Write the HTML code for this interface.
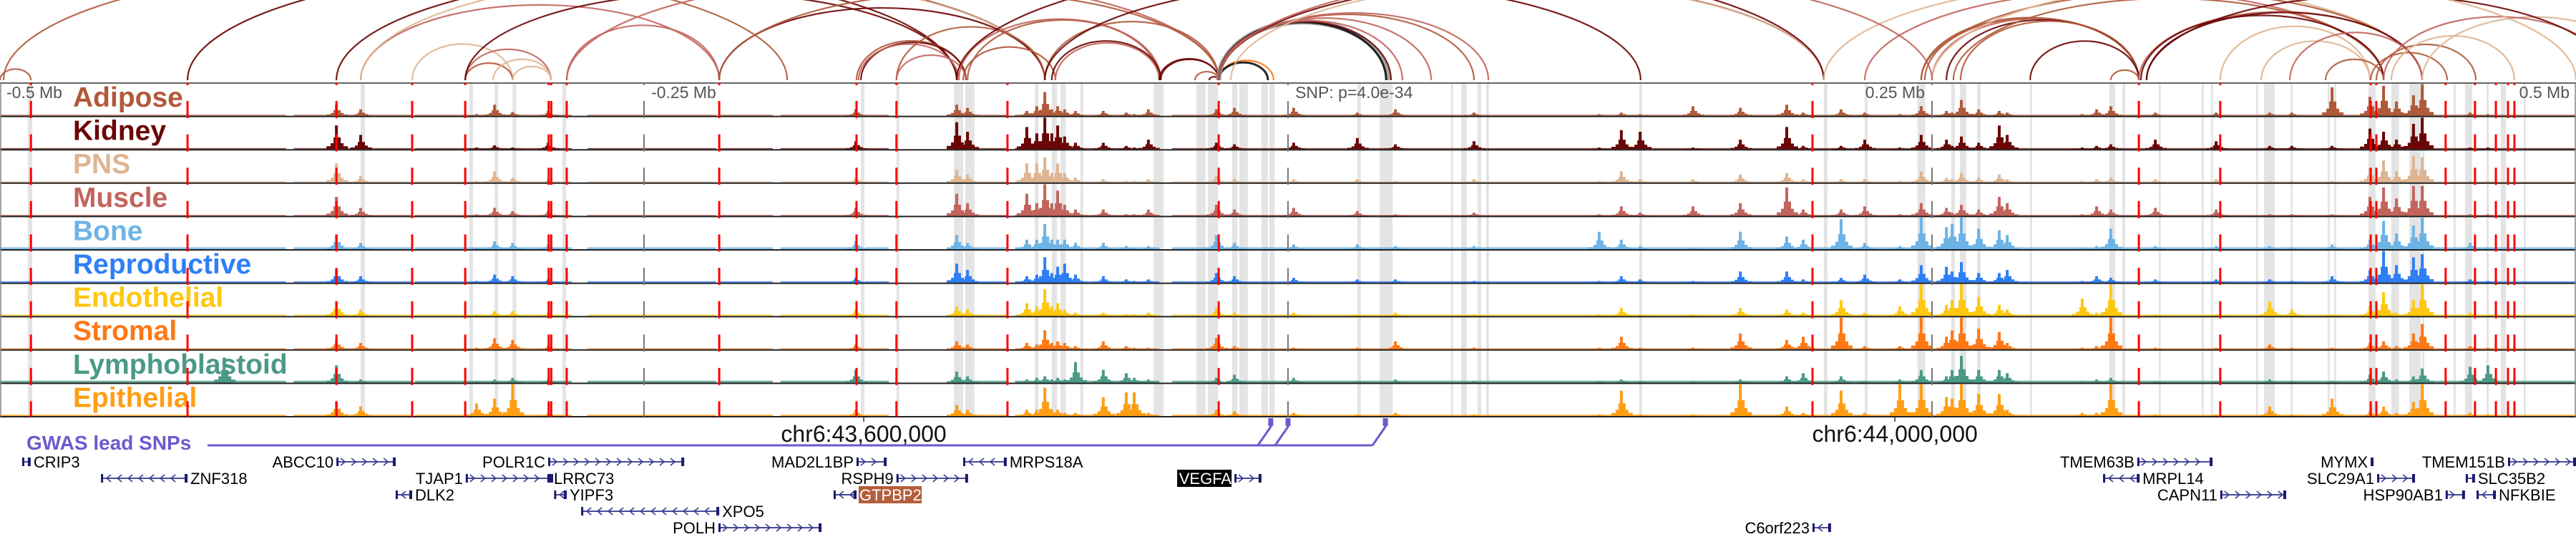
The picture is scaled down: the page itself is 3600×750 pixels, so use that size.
<!DOCTYPE html>
<html><head><meta charset="utf-8"><style>
html,body{margin:0;padding:0;background:#fff;}
svg{display:block;font-family:"Liberation Sans",sans-serif;}
</style></head><body>
<svg id="chart" width="3600" height="750" viewBox="0 0 3600 750" xmlns="http://www.w3.org/2000/svg">
<rect x="0" y="0" width="3600" height="750" fill="#fff"/>
<g id="arcs"></g>
<g id="bands"></g>
<g id="axislabels"></g>
<g id="labels"></g>
<g id="signals"></g>
<g id="borders"></g>
<g id="vlines"></g>
<g id="gwas"></g>
<g id="genes"></g>
</svg>
<script>
// ---- data (kb relative to lead SNP; region -500..500 kb) ----
const trackNames = ["Adipose","Kidney","PNS","Muscle","Bone","Reproductive","Endothelial","Stromal","Lymphoblastoid","Epithelial"];
const trackColors = ["#b05a3a","#6b0606","#deb592","#c2645c","#6db3e6","#2e7ff6","#ffc80f","#ff7814","#4a9a86","#ff9e14"];
const baseLevels = [0.03,0.03,0.03,0.03,0.06,0.04,0.04,0.03,0.06,0.04];
const coverage = [[-500,-389],[-386,-369],[-367,-340],[-339,-278],[-272,-222],[-221,-200],[-197,-167],[-164,-155],[-130,-109],[-106,-50],[-45,-28],[-24,500]];
const peakKb = [-413,-369.4,-360,-315,-308,-301,-287.2,-167.8,-128.6,-124.4,-101.4,-97.5,-94.4,-91.7,-89.4,-86.7,-82.5,-71.7,-62.8,-59.7,-54.2,-27.8,-20.8,2.2,26.9,41.7,72.2,120.8,129.4,136.7,157.2,175.6,193.6,200,214.7,223.9,237.5,245.8,255.6,257.8,261.4,268.1,276.1,279.2,308.3,313.9,319.4,336.7,360.3,381.1,389.7,405.3,420,425.3,430.3,436.9,440.3,458.9,465.8];
const hAdipose = [0,.35,.2,.05,.35,.12,.15,.2,.35,.25,.15,.3,.75,.2,.3,.2,.15,.15,.1,.05,.2,.2,.25,.25,.1,.2,.1,.05,.1,.05,.3,.25,.35,.1,.2,.1,.05,.3,.15,.1,.5,.2,.15,.1,.05,.2,.3,.1,.1,.1,.1,.9,.6,.95,.45,.65,1,.1,.05];
const hKidney = [0,.75,.45,.05,.12,.05,.2,.25,.85,.55,.7,.5,1,.5,.75,.4,.2,.2,.1,.05,.3,.2,.15,.2,.35,.15,.25,.05,.6,.55,.05,.3,.7,.1,.1,.3,.05,.45,.3,.1,.4,.2,.75,.45,.05,.1,.15,.3,.25,.1,.1,.1,.65,.55,.3,.8,1,.05,.05];
const hPNS = [0,.6,.2,.05,.35,.15,.1,.15,.4,.25,.6,.6,.8,.3,.6,.3,.15,.1,.05,.05,.1,.2,.1,.1,.1,.05,.1,.05,.35,.1,.1,.25,.3,.1,.1,.1,.05,.35,.15,.1,.3,.15,.25,.1,.05,.1,.15,.1,.1,.05,.05,.05,.45,.7,.35,.85,.8,.05,.05];
const hMuscle = [0,.6,.25,.05,.25,.15,.15,.25,.7,.4,.7,.4,1,.4,.8,.35,.2,.2,.05,.05,.2,.35,.2,.25,.15,.05,.1,.05,.3,.1,.3,.4,.9,.2,.2,.3,.05,.4,.25,.1,.35,.2,.6,.4,.05,.3,.2,.25,.2,.05,.05,.05,.6,.9,.55,.95,.95,.05,.05];
const hBone = [0,.45,.2,.05,.25,.2,.15,.25,.45,.2,.3,.3,.8,.3,.3,.3,.2,.2,.1,.05,.1,.45,.2,.15,.15,.1,.1,.55,.3,.1,.05,.55,.4,.3,.95,.2,.1,1,.7,.8,1,.65,.6,.45,.05,.1,.65,.1,.1,.1,.05,.15,.3,.9,.5,.75,1,.2,.05];
const hRepro = [0,.4,.2,.05,.25,.2,.1,.15,.6,.4,.2,.25,.8,.3,.5,.6,.25,.2,.1,.05,.1,.3,.2,.15,.1,.1,.05,.05,.2,.1,.05,.35,.35,.1,.15,.25,.1,.55,.5,.35,.65,.3,.3,.4,.05,.2,.15,.1,.1,.1,.05,.2,.4,1,.55,.8,.9,.1,.05];
const hEndo = [0,.45,.2,.05,.15,.15,.1,.2,.3,.2,.4,.3,.85,.3,.4,.2,.1,.1,.05,.05,.1,.25,.1,.1,.05,.1,.05,.05,.25,.05,.05,.25,.2,.1,.5,.1,.3,1,.35,.5,1,.6,.35,.2,.55,.1,1,.05,.05,.45,.2,.05,.3,.75,.1,.5,1,.1,.05];
const hStromal = [0,.3,.2,.05,.35,.3,.1,.15,.25,.15,.2,.15,.6,.2,.25,.2,.1,.25,.1,.05,.05,.35,.1,.05,.05,.25,.05,.05,.4,.05,.05,.5,.3,.4,1,.1,.1,1,.4,.6,1,.65,.55,.2,.05,.1,1,.05,.05,.15,.05,.05,.2,.25,.1,.5,.8,.1,.05];
const hLympho = [.8,.55,.1,.05,.1,.15,.1,.4,.35,.2,.1,.15,.2,.1,.15,.1,.65,.4,.3,.15,.1,.15,.25,.15,.05,.1,.05,.05,.1,.05,.05,.1,.2,.3,.2,.05,.1,.4,.2,.4,.85,.4,.4,.3,.05,.1,.15,.05,.05,.1,.05,.05,.25,.35,.1,.2,.45,.5,.55];
const hEpi = [0,.45,.3,.4,.55,1,.1,.2,.35,.2,.2,.2,.9,.2,.2,.1,.1,.6,.75,.75,.1,.2,.15,.1,.05,.1,.05,.05,.8,.05,.05,1,.3,.1,.8,.1,1,1,.6,.55,1,.7,.7,.2,.1,.1,1,.05,.05,.3,.05,.55,.15,.3,.1,.45,1,.1,.05];
const trackHeights = [hAdipose,hKidney,hPNS,hMuscle,hBone,hRepro,hEndo,hStromal,hLympho,hEpi];
const bandStart = [-489.2,-360,-317.8,-308,-301,-281.7,-165.8,-152,-129.7,-125.3,-98.3,-91.7,-88.3,-80.6,-52.2,-35.6,-31.1,-21.7,-18.9,-10.3,-7.2,26.9,35.6,63.3,67.2,73.6,76.9,136.4,208,223.9,244.4,257.5,260.8,267.5,288,318.9,323.9,338,354.7,358.3,375.8,378.9,389.2,403.6,406.1,419.4,428.3,435.3,440.3,452.5,456.9,465.3,470.8,479.7];
const bandWidth = [1.7,1.7,1.4,1.4,1.4,1.4,1.4,1.1,3.6,3.6,1.4,2,2,1.1,3.9,3.6,3.9,2,3.3,2.5,2,1.4,5,.8,2.2,1.4,1.1,1.1,1.4,1.1,3,1.4,2.5,1.4,.8,2.2,1.1,.8,.8,.8,.8,4.2,.8,.8,.8,2.8,3,4.4,.8,.8,2.8,.8,2,.8];
const redLines = [-488,-427.2,-369.4,-340,-319.4,-287,-286,-280,-220.8,-167.5,-152,-108.9,-26.9,203.6,330.3,361.9,420.3,422.5,449.4,460.8,468.9,473.6,476.1];
const greyLines = [-250,0,250];
const arcStart = [-500,-498.6,-427.2,-369.4,-360,-360,-340,-319.4,-319.4,-308.6,-301,-319.4,-280,-280,-220.8,-220.8,-167.5,-165.8,-166.7,-152,-152,-126.1,-124.4,-127.8,-90.3,-91.7,-94.4,-50,-49.4,-36.1,-30.6,-26.9,-26.9,-26.9,-26.9,-26.9,-26.9,-26.9,-26.9,-26.9,-26.9,-22.2,-94.4,-128.6,208,223.9,245.8,247.2,250,255.6,261.1,288.1,319.4,245.8,258.3,330.3,331.1,333.3,361.9,377.8,388.9,402.8,420.3,422.5,428.3,440.3,425.3,333.3,250,-26.9];
const arcEnd = [-488,-194.4,-128.6,-94.4,-220.8,-94.4,-301,-286.1,-301,-286.1,-286.1,-128.6,-220.8,-26.9,-94.4,-26.9,-125,-125,-127.8,-94.4,-125,-90.3,-50,-49.4,-50,-49.4,-26.9,-26.9,-26.9,-26.9,-26.9,-5.6,-7.8,38.9,38.1,40,44.4,55.6,72.2,77.8,208,208,136.9,208,440.3,425.3,330.3,330.3,330.3,330.3,330.3,330.3,330.3,440.3,425.3,440.3,425.3,440.3,420,420,440.3,425.3,450,461.1,476.1,527.8,513.9,513.9,500,250];
const arcColor = [0,0,1,1,3,2,2,3,0,2,2,1,3,3,1,0,0,1,3,0,3,0,0,3,3,1,0,1,1,0,1,7,10,11,10,1,3,3,0,3,1,2,1,1,2,3,0,0,3,1,0,1,0,0,0,3,1,1,2,2,3,0,0,0,2,2,3,1,2,3];
const geneName = ["CRIP3","ZNF318","ABCC10","DLK2","TJAP1","POLR1C","LRRC73","YIPF3","XPO5","POLH","MAD2L1BP","RSPH9","GTPBP2","MRPS18A","VEGFA","C6orf223","TMEM63B","MRPL14","CAPN11","MYMX","SLC29A1","HSP90AB1","TMEM151B","SLC35B2","NFKBIE"];
const geneStart = [-491.4,-460.8,-369.4,-346.4,-319.2,-287.2,-286.1,-284.9,-274.4,-221.1,-167.5,-152,-176.4,-126.1,-20.8,203.6,329.7,316.4,361.9,420.3,422.8,449.4,473.6,457.2,461.4];
const geneEnd = [-488.1,-427.2,-346.4,-340,-286.4,-234.4,-286.1,-280,-220.8,-181.1,-155.8,-124.2,-167.5,-109.2,-10.3,210.8,358.9,330.6,387.5,421.4,437.5,456.9,500,460.8,468.9];
const geneRow = [0,1,0,2,1,0,1,2,3,4,0,1,2,0,1,4,0,1,2,0,1,2,0,1,2];
const geneStrand = [-1,-1,1,-1,1,1,0,-1,-1,1,1,1,-1,-1,1,-1,1,-1,1,1,1,1,1,-1,-1];
const geneLabelSide = ["R","R","L","R","L","L","R","R","R","L","L","L","R","R","L","L","L","R","L","L","L","L","L","R","R"];
const gwasSnps = [-6.7,0,37.8];
const tickLabels = ["chr6:43,600,000","chr6:44,000,000"];
const tickKb = [-164.7,235.6];
const mbLabels = ["-0.5 Mb","-0.25 Mb","SNP: p=4.0e-34","0.25 Mb","0.5 Mb"];
const mbLabelKb = [-497.5,-247.2,2.8,247.2,497.5];
const mbLabelAnchor = ["start","start","start","end","end"];

// ---- scales / layout ----
const NS="http://www.w3.org/2000/svg";
const X = kb => 1800 + kb*3.6;
const TRACK_TOP=116, TRACK_H=46.6, NT=10, TRACK_BOTTOM=TRACK_TOP+TRACK_H*NT;
const MAXH=44;
const Y = (i,v) => TRACK_TOP+(i+1)*TRACK_H-1 - v*MAXH;
function mk(tag, attrs, parent){const e=document.createElementNS(NS,tag);for(const k in attrs)e.setAttribute(k,attrs[k]);parent.appendChild(e);return e;}
const extraColors={10:"#111111",11:"#9a9a9a"};
const colorOf = c => extraColors[c]||trackColors[c];

// arcs
const gA=document.getElementById('arcs');
const ARC_BASE=112;
arcStart.forEach((s,i)=>{
  const x1=X(s), x2=X(arcEnd[i]); const span=Math.abs(x2-x1);
  const h=Math.min(0.36*span, 60+0.09*span);
  const c=arcColor[i];
  const p=mk('path',{d:`M${x1},${ARC_BASE} A${span/2},${h} 0 0 1 ${x2},${ARC_BASE}`,fill:'none',stroke:colorOf(c),'stroke-width':c===11?7:(c===10?3:2.2),'stroke-opacity':0.9},gA);
  
  
});

// bands
const gB=document.getElementById('bands');
bandStart.forEach((s,i)=>{
  const r=mk('rect',{x:X(s),y:TRACK_TOP,width:Math.max(2.5,bandWidth[i]*3.6),height:TRACK_BOTTOM-TRACK_TOP,fill:'#e4e4e4'},gB);
  
  
});

// axis labels
const gAx=document.getElementById('axislabels');
mbLabels.forEach((t,i)=>{
  const e=mk('text',{x:X(mbLabelKb[i]),y:137,'font-size':23,fill:'#555','text-anchor':mbLabelAnchor[i]},gAx);
  e.textContent=t;
  
  
});

// track labels
const gL=document.getElementById('labels');
trackNames.forEach((n,i)=>{
  const e=mk('text',{x:102,y:TRACK_TOP+i*TRACK_H+33,'font-size':39,'font-weight':'bold',fill:trackColors[i]},gL);
  e.textContent=n;
  
  
});

// signals
const gS=document.getElementById('signals');
trackNames.forEach((n,i)=>{
  const g=mk('g',{fill:trackColors[i]},gS);
  
  
  const b=Y(i,0);
  coverage.forEach(seg=>{
    const r=mk('rect',{x:X(seg[0]),y:Y(i,baseLevels[i]),width:X(seg[1])-X(seg[0]),height:b-Y(i,baseLevels[i]),'fill-opacity':0.8},g);
    
    
  });
  trackHeights[i].forEach((v,j)=>{
    if(v<=0) return;
    const x=X(peakKb[j]);
    const top=Y(i,v), mid=Y(i,v*0.5), sh=Y(i,v*0.25), lo=Y(i,v*0.12);
    const pts=[[x-14,b],[x-14,lo],[x-8,lo],[x-8,sh],[x-4,sh],[x-4,mid],[x-2,mid],[x-2,top],[x+2,top],[x+2,mid],[x+6,mid],[x+6,sh],[x+10,sh],[x+10,lo],[x+16,lo],[x+16,b]];
    const p=mk('polygon',{points:pts.map(q=>q.join(',')).join(' ')},g);
    
    
  });
});

// borders
const gBo=document.getElementById('borders');
mk('line',{x1:0,y1:TRACK_TOP,x2:3600,y2:TRACK_TOP,stroke:'#333','stroke-width':1.5},gBo);
for(let i=1;i<=NT;i++){
  const y=TRACK_TOP+i*TRACK_H;
  const l=mk('line',{x1:0,y1:y,x2:3600,y2:y,stroke:'#222','stroke-width':2},gBo);
  
  
}
mk('line',{x1:1,y1:TRACK_TOP,x2:1,y2:TRACK_BOTTOM,stroke:'#888','stroke-width':1.5},gBo);
mk('line',{x1:3599,y1:TRACK_TOP,x2:3599,y2:TRACK_BOTTOM,stroke:'#888','stroke-width':1.5},gBo);

// vertical marker lines
const gV=document.getElementById('vlines');
function dashLine(x,color,w,name){
  for(let i=0;i<NT;i++){
    const t=TRACK_TOP+i*TRACK_H;
    const l=mk('line',{x1:x,y1:t+25,x2:x,y2:Math.min(t+49,TRACK_BOTTOM),stroke:color,'stroke-width':w},gV);
    
    
  }
  const l0=mk('line',{x1:x,y1:TRACK_TOP,x2:x,y2:TRACK_TOP+3,stroke:color,'stroke-width':w},gV);
  
  
}
greyLines.forEach(k=>dashLine(X(k),'#777',2,'scale-tick-line'));
redLines.forEach(k=>dashLine(X(k),'#ff0000',3,'enhancer-marker'));

// ticks
tickKb.forEach((k,i)=>{
  const x=X(k);
  mk('line',{x1:x,y1:TRACK_BOTTOM,x2:x,y2:TRACK_BOTTOM+7,stroke:'#333','stroke-width':1.5},gV);
  const t=mk('text',{x:x,y:617,'font-size':32,'text-anchor':'middle',fill:'#111'},gV);
  t.textContent=tickLabels[i];
  
  
});

// GWAS
const gG=document.getElementById('gwas');
const gl=mk('text',{x:37,y:628,'font-size':28,'font-weight':'bold',fill:'#6a5acd'},gG);
gl.textContent='GWAS lead SNPs';


const LINE_Y=622;
const lastX=Math.max(...gwasSnps.map(X));
mk('line',{x1:290,y1:LINE_Y,x2:lastX-18,y2:LINE_Y,stroke:'#6a5acd','stroke-width':3},gG);
gwasSnps.forEach(k=>{
  const x=X(k);
  const l=mk('polyline',{points:`${x-18},${LINE_Y} ${x},${596} ${x},${590}`,fill:'none',stroke:'#6a5acd','stroke-width':3},gG);
  
  
  const r=mk('rect',{x:x-3.5,y:584,width:7,height:11,fill:'#6a5acd'},gG);
  
  
});

// genes
const gGe=document.getElementById('genes');
const rowY=[645,668,691,714,737];
geneName.forEach((n,i)=>{
  const g=mk('g',{},gGe);
  
  
  const x1=X(geneStart[i]), x2=X(geneEnd[i]), y=rowY[geneRow[i]];
  mk('line',{x1:x1,y1:y,x2:x2,y2:y,stroke:'#4a4a99','stroke-width':2},g);
  const s=geneStrand[i];
  if(s!==0){
    for(let x=x1+10;x<x2-6;x+=15){
      const d=s>0?`M${x-4},${y-5} L${x+2},${y} L${x-4},${y+5}`:`M${x+4},${y-5} L${x-2},${y} L${x+4},${y+5}`;
      mk('path',{d:d,fill:'none',stroke:'#3a3a90','stroke-width':1.6},g);
    }
  }
  mk('rect',{x:x1,y:y-6,width:3,height:12,fill:'#1a1a6e'},g);
  mk('rect',{x:x2-4,y:y-6,width:4,height:12,fill:'#1a1a6e'},g);
  const left=geneLabelSide[i]==='L';
  const tx=left?x1-4:x2+4;
  if(n==='VEGFA'||n==='GTPBP2'){
    const w=n==='VEGFA'?76:88;
    mk('rect',{x:left?tx-w:tx-1,y:y-12,width:w,height:24,fill:n==='VEGFA'?'#000':'#b35e3c'},g);
  }
  const t=mk('text',{x:tx,y:y+8,'font-size':22,'text-anchor':left?'end':'start',fill:(n==='VEGFA'||n==='GTPBP2')?'#fff':'#000'},g);
  t.textContent=n;
});
</script>
</body></html>
